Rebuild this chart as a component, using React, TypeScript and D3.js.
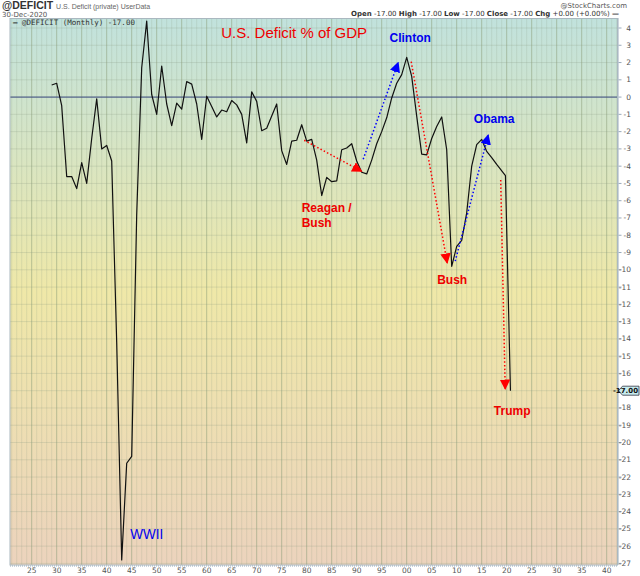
import * as d3 from "d3";
import React from "react";

// annual deficit (% of GDP)
const years: number[] = [...d3.range(1929, 2019), 2019.75, 2020.75];
const deficit: number[] = [
  0.7, 0.8, -0.5, -4.6, -4.6, -5.3, -3.8, -5.0, -2.4, -0.1,
  -3.0, -2.8, -3.7, -14.2, -26.8, -21.2, -20.8, -6.8, 1.7, 4.4,
  0.15, -1.0, 1.8, -0.4, -1.65, -0.35, -0.7, 0.9, 0.75, -0.4,
  -2.45, 0.05, -0.55, -1.15, -0.75, -0.85, -0.2, -0.45, -1.0, -2.65,
  0.3, -0.25, -1.95, -1.8, -1.1, -0.4, -3.1, -3.9, -2.55, -2.5,
  -1.6, -2.55, -2.45, -3.65, -5.7, -4.65, -4.9, -4.85, -3.05, -2.95,
  -2.7, -3.7, -4.35, -4.45, -3.65, -2.7, -2.0, -1.2, -0.05, 0.8,
  1.3, 2.3, 1.2, -1.1, -3.3, -3.35, -2.4, -1.7, -1.15, -3.05,
  -9.8, -8.65, -8.3, -6.7, -4.0, -2.75, -2.45, -3.15, -3.5, -3.9,
  -4.55, -17.0,
];

const yTicks: number[] = d3.range(4, -28, -1);
const xTicks: number[] = d3.range(1925, 2041, 5);
const lastValue = -17.0;

// dotted arrows: [x1, y1, x2, y2, colour]
const arrows: [number, number, number, number, string][] = [
  [1979.5, -2.5, 1991.0, -4.3, "red"],
  [1991.3, -3.6, 1998.3, 2.0, "blue"],
  [2000.9, 2.05, 2008.1, -9.6, "red"],
  [2009.7, -9.5, 2016.3, -2.2, "blue"],
  [2018.8, -4.8, 2019.7, -16.9, "red"],
];

// labels: [text, x, y, colour, anchor]
const labels: [string, number, number, string, string][] = [
  ["Clinton", 2000.7, 3.2, "#0000ee", "middle"],
  ["Obama", 2017.5, -1.5, "#0000ee", "middle"],
  ["Bush", 2009.1, -10.85, "#ee0000", "middle"],
  ["Trump", 2021.1, -18.4, "#ee0000", "middle"],
  ["Reagan /", 1979.0, -6.65, "#ee0000", "start"],
  ["Bush", 1979.0, -7.55, "#ee0000", "start"],
];

const W = 640;
const H = 576;
const plot = { left: 10, right: 617.5, top: 18.5, bottom: 565 };

export default function App() {
  const x = d3.scaleLinear().domain([1925, 2020]).range([31.7, 506.7]);
  const y = d3.scaleLinear().domain([4, -27]).range([28, 563.4]);

  const line = d3
    .line<number>()
    .x((_d, i) => x(years[i]))
    .y((d) => y(d));

  const minorYears = d3.range(1921, 2043).filter((yr) => yr % 5 !== 0);
  const small = { fontFamily: "Verdana, 'DejaVu Sans', sans-serif", fontSize: 7.5, fill: "#555" };

  return (
    <svg
      width={W}
      height={H}
      style={{ position: "absolute", left: 0, top: 0, background: "#fff" }}
      fontFamily="Arial, 'Liberation Sans', sans-serif"
    >
      <defs>
        <linearGradient id="bg" x1="0" y1="0" x2="0" y2="1">
          <stop offset="0" stopColor="#c1e2dd" />
          <stop offset="0.5" stopColor="#efe8a8" />
          <stop offset="1" stopColor="#ecd3bd" />
        </linearGradient>
        <marker id="ah-red" viewBox="0 0 10 10" refX="9" refY="5" markerWidth="7" markerHeight="7" orient="auto">
          <path d="M0,0 L10,5 L0,10 z" fill="red" />
        </marker>
        <marker id="ah-blue" viewBox="0 0 10 10" refX="9" refY="5" markerWidth="7" markerHeight="7" orient="auto">
          <path d="M0,0 L10,5 L0,10 z" fill="blue" />
        </marker>
        <clipPath id="clip">
          <rect x={plot.left} y={plot.top} width={plot.right - plot.left} height={plot.bottom - plot.top} />
        </clipPath>
      </defs>

      {/* header */}
      <text x={2} y={9} fontFamily="Arial, 'Liberation Sans', sans-serif" fontSize={10.5} fontWeight="bold" fill="#333">
        @DEFICIT
        <tspan fontSize={7} fontWeight="normal" fill="#666" dx={3}>U.S. Deficit (private) UserData</tspan>
      </text>
      <text x={2} y={17} {...small} fontSize={7}>30-Dec-2020</text>
      <text x={627} y={8} {...small} fontSize={7} textAnchor="end">@StockCharts.com</text>
      <text x={619} y={16} {...small} fontSize={7} textAnchor="end" fill="#333">
        <tspan fontWeight="bold">Open</tspan> -17.00 <tspan fontWeight="bold">High</tspan> -17.00{" "}
        <tspan fontWeight="bold">Low</tspan> -17.00 <tspan fontWeight="bold">Close</tspan> -17.00{" "}
        <tspan fontWeight="bold">Chg</tspan> +0.00 (+0.00%) <tspan fontWeight="bold">—</tspan>
      </text>

      {/* plot background */}
      <rect
        x={plot.left}
        y={plot.top}
        width={plot.right - plot.left}
        height={plot.bottom - plot.top}
        fill="url(#bg)"
      />

      {/* grid */}
      <g clipPath="url(#clip)">
        {minorYears.map((yr) => (
          <line key={"m" + yr} x1={x(yr)} x2={x(yr)} y1={plot.top} y2={plot.bottom} stroke="#8a9a80" strokeOpacity={0.25} strokeWidth={0.8} />
        ))}
        {xTicks.map((yr) => (
          <line key={"M" + yr} x1={x(yr)} x2={x(yr)} y1={plot.top} y2={plot.bottom} stroke="#8a9a78" strokeOpacity={0.55} strokeWidth={1} />
        ))}
        {yTicks.map((v) => (
          <line key={"h" + v} x1={plot.left} x2={plot.right} y1={y(v)} y2={y(v)} stroke="#8a9a80" strokeOpacity={0.3} strokeWidth={0.8} />
        ))}
        <line x1={plot.left} x2={plot.right} y1={y(0)} y2={y(0)} stroke="#3c4a80" strokeWidth={1} />
      </g>
      <rect
        x={plot.left}
        y={plot.top}
        width={plot.right - plot.left}
        height={plot.bottom - plot.top}
        fill="none"
        stroke="#aab8c0"
        strokeWidth={1}
      />

      {/* legend */}
      <text x={13} y={25} fontFamily="'DejaVu Sans Mono', 'Liberation Mono', monospace" fontSize={7.5} fill="#333">
        <tspan fontWeight="bold" fill="#222">—</tspan> @DEFICIT (Monthly) -17.00
      </text>

      {/* series */}
      <path d={line(deficit) ?? ""} fill="none" stroke="#111" strokeWidth={1.2} strokeLinejoin="round" clipPath="url(#clip)" />

      {/* annotations */}
      {arrows.map(([x1, y1, x2, y2, c], i) => (
        <line
          key={"a" + i}
          x1={x(x1)}
          y1={y(y1)}
          x2={x(x2)}
          y2={y(y2)}
          stroke={c}
          strokeWidth={1.5}
          strokeDasharray="1.5,2.2"
          markerEnd={`url(#ah-${c})`}
        />
      ))}
      <text x={x(1977.5)} y={y(3.4)} textAnchor="middle" fontSize={15} fill="#ee0000">
        U.S. Deficit % of GDP
      </text>
      {labels.map(([t, lx, ly, c, anchor], i) => (
        <text key={"l" + i} x={x(lx)} y={y(ly)} textAnchor={anchor} fontSize={12} fontWeight="bold" fill={c}>
          {t}
        </text>
      ))}
      <text x={x(1944.7)} y={y(-25.6)} fontSize={15} fill="#0000ee" textLength={33} lengthAdjust="spacingAndGlyphs">
        WWII
      </text>

      {/* right axis */}
      <line x1={plot.right + 1} x2={plot.right + 1} y1={plot.top} y2={plot.bottom} stroke="#9ab" strokeDasharray="1,1" />
      {yTicks.map((v) => (
        <g key={"yt" + v}>
          <line x1={plot.right + 1} x2={plot.right + 4} y1={y(v)} y2={y(v)} stroke="#9ab" />
          {v !== lastValue && (
            <text x={631} y={y(v) + 2.5} {...small} textAnchor="end">
              {v}
            </text>
          )}
        </g>
      ))}
      <path
        d={`M${plot.right + 1},${y(lastValue)} L${plot.right + 5},${y(lastValue) - 4.5} L${W - 1},${y(lastValue) - 4.5} L${W - 1},${y(lastValue) + 4.5} L${plot.right + 5},${y(lastValue) + 4.5} Z`}
        fill="#c6ecee"
        stroke="#334"
        strokeWidth={0.8}
      />
      <text x={W - 2} y={y(lastValue) + 2.7} {...small} fontSize={7} fontWeight="bold" fill="#111" textAnchor="end">
        {lastValue.toFixed(2)}
      </text>

      {/* bottom axis */}
      <line x1={plot.left} x2={plot.right} y1={plot.bottom + 1} y2={plot.bottom + 1} stroke="#9ab" strokeDasharray="1,1" />
      {xTicks.map((yr) => (
        <text key={"xt" + yr} x={x(yr)} y={573} {...small} textAnchor="middle">
          {String(yr % 100).padStart(2, "0")}
        </text>
      ))}
    </svg>
  );
}
